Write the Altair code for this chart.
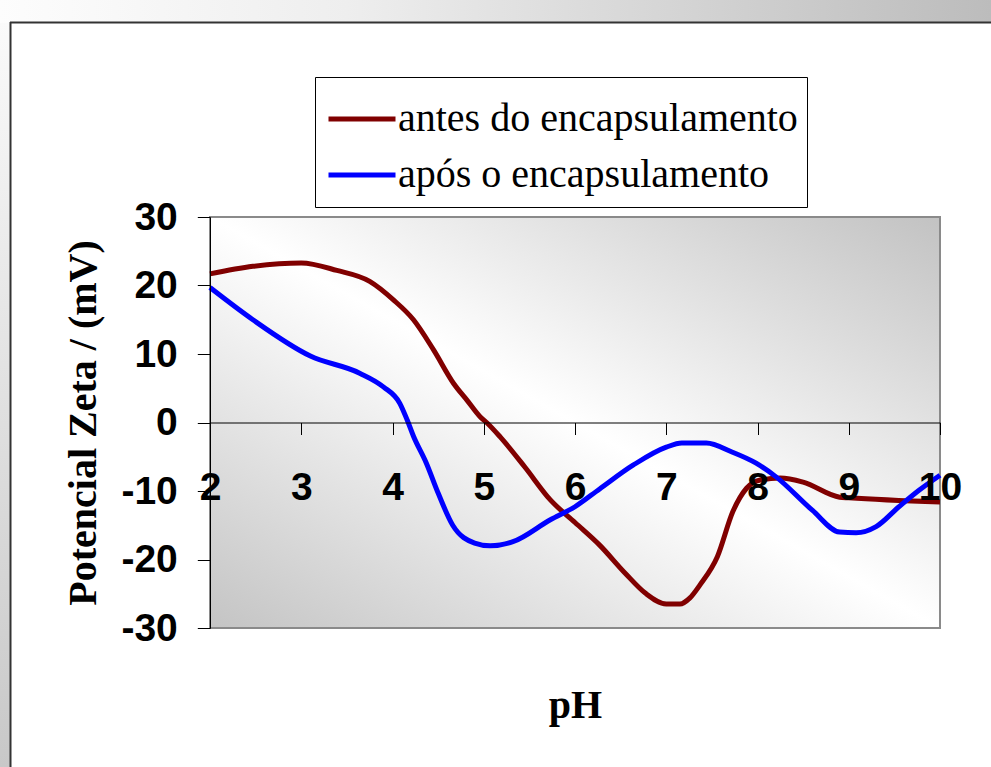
import altair as alt
import pandas as pd

# ---- data ----
series_names = ["antes do encapsulamento", "após o encapsulamento"]
series_colors = ["#800000", "#0000ff"]

ph_antes = [2.0, 2.47, 3.0, 3.39, 3.75, 4.01, 4.23, 4.45, 4.67, 4.82, 4.96, 5.04, 5.18,
            5.45, 5.73, 6.0, 6.27, 6.55, 6.77, 7.0, 7.15, 7.26, 7.37, 7.56, 7.73,
            7.88, 8.03, 8.25, 8.5, 8.9, 9.0, 10.0]
zeta_antes = [21.7, 22.8, 23.3, 22.2, 20.6, 17.9, 15.0, 10.6, 5.7, 3.2, 0.85, -0.1, -2.1,
              -6.5, -11.3, -14.6, -17.9, -22.0, -24.9, -26.5, -26.5, -25.6, -23.7, -19.6, -13.0,
              -9.6, -8.4, -8.1, -8.7, -10.9, -11.0, -11.6]

ph_apos = [2.0, 2.47, 3.1, 3.64, 3.9, 4.08, 4.16, 4.23, 4.37, 4.5, 4.66, 4.9,
           5.07, 5.32, 5.73, 6.0, 6.27, 6.64, 7.0, 7.17, 7.44, 7.72, 7.98, 8.2, 8.6,
           8.9, 9.08, 9.3, 9.55, 9.77, 10.0]
zeta_apos = [19.7, 15.0, 9.7, 7.2, 5.2, 2.8, 0.4, -2.0, -5.9, -10.3, -15.0, -17.6,
             -18.0, -17.4, -14.2, -12.3, -9.7, -6.2, -3.6, -3.0, -3.0, -4.3, -5.9, -7.9, -12.8,
             -16.0, -16.1, -15.2, -12.3, -9.9, -7.7]

x_ticks = [2, 3, 4, 5, 6, 7, 8, 9, 10]
y_ticks = [-30, -20, -10, 0, 10, 20, 30]

df = pd.concat([
    pd.DataFrame({"ph": ph_antes, "zeta": zeta_antes, "serie": series_names[0]}),
    pd.DataFrame({"ph": ph_apos, "zeta": zeta_apos, "serie": series_names[1]}),
])

W, H = 730, 411
one = pd.DataFrame({"k": [0]})

plot_grad = alt.LinearGradient(
    gradient="linear",
    stops=[alt.GradientStop(color="#c2c2c2", offset=0),
           alt.GradientStop(color="#ffffff", offset=0.5),
           alt.GradientStop(color="#c4c4c4", offset=1)],
    x1=1, y1=0, x2=0, y2=1)

top_grad = alt.LinearGradient(
    gradient="linear",
    stops=[alt.GradientStop(color="#fdfdfd", offset=0),
           alt.GradientStop(color="#eeeeee", offset=0.35),
           alt.GradientStop(color="#bcbcbc", offset=1)],
    x1=0, y1=0, x2=1, y2=0)

left_grad = alt.LinearGradient(
    gradient="linear",
    stops=[alt.GradientStop(color="#fafafa", offset=0),
           alt.GradientStop(color="#c8c8c8", offset=1)],
    x1=0, y1=0, x2=0, y2=1)

# decorative page frame
top_strip = alt.Chart(one).mark_rect(fill=top_grad).encode(
    x=alt.value(-210), x2=alt.value(781), y=alt.value(-217), y2=alt.value(-194))
left_strip = alt.Chart(one).mark_rect(fill=left_grad).encode(
    x=alt.value(-210), x2=alt.value(-199), y=alt.value(-194), y2=alt.value(550))
frame_top = alt.Chart(one).mark_rule(color="#333333", strokeWidth=2).encode(
    x=alt.value(-200), x2=alt.value(781), y=alt.value(-194.5))
frame_left = alt.Chart(one).mark_rule(color="#333333", strokeWidth=2).encode(
    x=alt.value(-199.5), y=alt.value(-195), y2=alt.value(550))

# legend frame
legend_box = alt.Chart(one).mark_rect(fill="white", stroke="black", strokeWidth=1).encode(
    x=alt.value(105.5), x2=alt.value(597.5), y=alt.value(-139.5), y2=alt.value(-9.5))

plot_bg = alt.Chart(one).mark_rect(fill=plot_grad, stroke="#8a8a8a", strokeWidth=2).encode(
    x=alt.value(0), x2=alt.value(W), y=alt.value(0), y2=alt.value(H))

lines = alt.Chart(df).mark_line(strokeWidth=5, interpolate="monotone").encode(
    x=alt.X("ph:Q", scale=alt.Scale(domain=[2, 10], nice=False, zero=False),
            axis=alt.Axis(values=x_ticks, offset=-H / 2, tickSize=12, labelPadding=65,
                          labelBaseline="alphabetic", labelFont="Liberation Sans",
                          labelFontWeight="bold", labelFontSize=39, labelColor="black",
                          labelFlush=False, labelOverlap=False,
                          domainColor="black", tickColor="black", grid=False,
                          title="pH", titleFont="Liberation Serif", titleFontSize=40,
                          titleFontWeight="bold", titleColor="black",
                          titleX=W / 2, titleY=294.5, titleBaseline="alphabetic",
                          zindex=1)),
    y=alt.Y("zeta:Q", scale=alt.Scale(domain=[-30, 30], nice=False),
            axis=alt.Axis(values=y_ticks, tickSize=12.7, labelPadding=20,
                          labelExpr="toString(datum.value)",
                          labelFont="Liberation Sans", labelFontWeight="bold",
                          labelFontSize=39, labelColor="black", labelOverlap=False,
                          domainColor="black", tickColor="black", grid=False,
                          title="Potencial Zeta / (mV)", titleFont="Liberation Serif",
                          titleFontSize=40, titleFontWeight="bold", titleColor="black",
                          titleX=-115, titleY=H / 2, titleAngle=270, titleAlign="center",
                          titleBaseline="alphabetic", zindex=1)),
    color=alt.Color("serie:N",
                    scale=alt.Scale(domain=series_names, range=series_colors),
                    legend=alt.Legend(title=None, orient="none", legendX=116, legendY=-134,
                                      symbolType="stroke", symbolStrokeWidth=5,
                                      symbolSize=4489, labelFont="Liberation Serif",
                                      labelFontSize=40, labelColor="black", labelOffset=0,
                                      labelBaseline="middle",
                                      labelLimit=0, padding=0, rowPadding=0)),
)

chart = alt.layer(top_strip, left_strip, frame_top, frame_left, legend_box, plot_bg, lines).properties(
    width=W, height=H,
    padding={"left": 210, "top": 217, "right": 51, "bottom": 139},
    autosize=alt.AutoSizeParams(type="none"),
    background="white",
).configure_view(stroke=None).configure_legend(
    labelFont="Liberation Serif", labelFontSize=40, labelColor="black"
)

chart.save("out.html", embed_options={"renderer": "svg", "actions": False})
